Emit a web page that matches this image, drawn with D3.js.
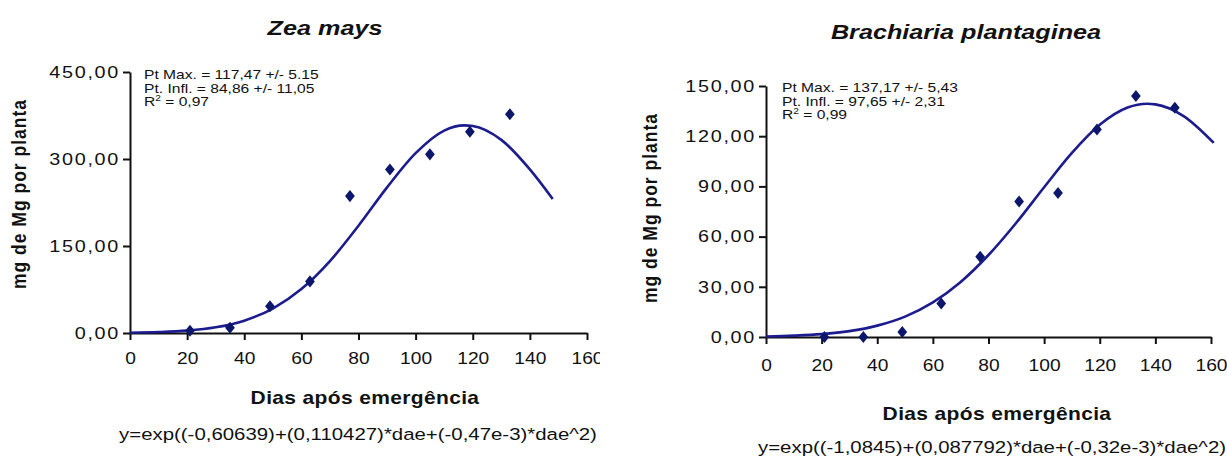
<!DOCTYPE html>
<html>
<head>
<meta charset="utf-8">
<script src="https://cdn.jsdelivr.net/npm/d3@7"></script>
<style>
  body { margin: 0; background: #fff; }
  svg { display: block; font-family: "Liberation Sans", Arial, sans-serif; }
</style>
</head>
<body>
<div id="chart"></div>
<script>
// observed points (days after emergence, mg of Mg per plant)
const ZEA_DAYS = [21, 35, 49, 63, 77, 91, 105, 119, 133];
const ZEA_MG = [4, 9, 46, 89, 236, 282, 308, 347, 377];
const BRA_DAYS = [21, 35, 49, 63, 77, 91, 105, 119, 133, 147];
const BRA_MG = [0, 0, 3, 20, 48, 81, 86, 124, 144, 137];

// fitted curves
const ZEA_FIT_DAYS = [0, 10, 20, 30, 40, 50, 60, 70, 80, 90, 100, 110, 117, 120, 130, 140, 148];
const ZEA_FIT_MG = [0.5, 1.6, 4.1, 9.8, 21.3, 42.1, 75.7, 124, 185, 251, 310, 349, 358, 357, 333, 282, 231];
const BRA_FIT_DAYS = [0, 10, 20, 30, 40, 50, 60, 70, 80, 90, 100, 110, 120, 130, 137, 140, 150, 161];
const BRA_FIT_MG = [0.3, 0.8, 1.7, 3.5, 6.8, 12.2, 20.7, 32.9, 49, 68.3, 89.5, 110, 126.8, 137.1, 139.4, 139, 132.2, 116];

// ticks
const X_TICKS = [0, 20, 40, 60, 80, 100, 120, 140, 160];
const ZEA_Y_TICKS = [0, 150, 300, 450];
const BRA_Y_TICKS = [0, 30, 60, 90, 120, 150];

// texts
const TITLES = ['Zea mays', 'Brachiaria plantaginea'];
const X_TITLE = 'Dias após emergência';
const Y_TITLE = 'mg de Mg por planta';
const ZEA_NOTES = ['Pt Max. = 117,47 +/- 5.15', 'Pt. Infl. = 84,86 +/- 11,05', '0,97'];
const BRA_NOTES = ['Pt Max. = 137,17 +/- 5,43', 'Pt. Infl. =  97,65 +/- 2,31', '0,99'];
const EQUATIONS = [
  'y=exp((-0,60639)+(0,110427)*dae+(-0,47e-3)*dae^2)',
  'y=exp((-1,0845)+(0,087792)*dae+(-0,32e-3)*dae^2)'
];

const W = 1227, H = 461;
const SX = 1.2; // the source picture is stretched sideways
const LINE_COLOR = '#1c1c8e';
const POINT_COLOR = '#0c176c';

const fmt = d3.formatLocale({ decimal: ',', thousands: '.', grouping: [3], currency: ['', ''] }).format('.2f');

const svg = d3.select('#chart').append('svg')
  .attr('width', W)
  .attr('height', H);

svg.append('defs').append('clipPath')
  .attr('id', 'clipLeft')
  .append('rect')
  .attr('x', 0).attr('y', 0).attr('width', 600).attr('height', H);

function addText(g, x, y, str, opts = {}) {
  const rot = opts.rotate ? ` rotate(${opts.rotate})` : '';
  return g.append('text')
    .attr('transform', `translate(${x},${y}) scale(${SX},1)${rot}`)
    .attr('text-anchor', opts.anchor || 'middle')
    .attr('font-size', opts.size || 16)
    .attr('font-weight', opts.weight || 'normal')
    .attr('font-style', opts.style || 'normal')
    .attr('letter-spacing', opts.spacing || 0)
    .attr('fill', '#111')
    .text(str);
}

function stretchTicks(sel) {
  sel.selectAll('text').each(function() {
    const t = d3.select(this);
    const x = +t.attr('x') || 0;
    t.attr('x', x / SX).attr('transform', `scale(${SX},1)`);
  });
}

function drawPanel(p) {
  const g = svg.append('g');
  if (p.clip) g.attr('clip-path', `url(#${p.clip})`);

  const x = d3.scaleLinear().domain([0, 160]).range(p.xRange);
  const y = d3.scaleLinear().domain(p.yDomain).range(p.yRange);

  // axes
  const yAxis = g.append('g')
    .attr('transform', `translate(${p.xRange[0]},0)`)
    .call(d3.axisLeft(y).tickValues(p.yTicks).tickFormat(fmt).tickSize(7).tickPadding(3).tickSizeOuter(0));
  const xAxis = g.append('g')
    .attr('transform', `translate(0,${p.yRange[0]})`)
    .call(d3.axisBottom(x).tickValues(X_TICKS).tickSize(7).tickPadding(p.xPad).tickSizeOuter(0));

  [yAxis, xAxis].forEach(a => {
    a.attr('font-size', 16).attr('font-family', null);
    a.select('.domain').attr('stroke', '#111').attr('stroke-width', 2);
    a.selectAll('.tick line').attr('stroke', '#111').attr('stroke-width', 2);
    a.selectAll('.tick text').attr('fill', '#111');
    stretchTicks(a);
  });
  yAxis.attr('font-size', 16.5).selectAll('.tick text').attr('letter-spacing', 1.4);

  // fitted curve
  const line = d3.line()
    .x(d => x(d[0]))
    .y(d => y(d[1]))
    .curve(d3.curveMonotoneX);
  g.append('path')
    .datum(p.fitDays.map((d, i) => [d, p.fitMg[i]]))
    .attr('d', line)
    .attr('fill', 'none')
    .attr('stroke', LINE_COLOR)
    .attr('stroke-width', 2.6);

  // observed points
  const diamond = d3.symbol().type(d3.symbolDiamond).size(42);
  g.selectAll('.pt')
    .data(p.days.map((d, i) => [d, p.mg[i]]))
    .enter()
    .append('path')
    .attr('class', 'pt')
    .attr('d', diamond)
    .attr('transform', d => `translate(${x(d[0])},${y(d[1])}) scale(1.4,1)`)
    .attr('fill', POINT_COLOR);

  // title and axis titles
  addText(g, p.titlePos[0], p.titlePos[1], p.title, { size: 21, weight: 'bold', style: 'italic' });
  addText(g, p.xTitlePos[0], p.xTitlePos[1], X_TITLE, { size: 17.5, weight: 'bold', spacing: 0.3 });
  addText(g, p.yTitlePos[0], p.yTitlePos[1], Y_TITLE, { size: 17.5, weight: 'bold', spacing: 1, rotate: -90 });
  addText(g, p.eqPos[0], p.eqPos[1], p.equation, { size: 17 });

  // fit statistics
  const nx = p.notePos[0], ny = p.notePos[1];
  addText(g, nx, ny, p.notes[0], { size: 13, anchor: 'start' });
  addText(g, nx, ny + 13.5, p.notes[1], { size: 13, anchor: 'start' });
  const r2 = addText(g, nx, ny + 27, 'R', { size: 13, anchor: 'start' });
  r2.append('tspan').attr('font-size', 8.5).attr('dy', -5).text('2');
  r2.append('tspan').attr('dy', 5).text(' = ' + p.notes[2]);
}

drawPanel({
  clip: 'clipLeft',
  xRange: [130, 587],
  yDomain: [0, 450],
  yRange: [333, 72],
  yTicks: ZEA_Y_TICKS,
  xPad: 13,
  days: ZEA_DAYS, mg: ZEA_MG,
  fitDays: ZEA_FIT_DAYS, fitMg: ZEA_FIT_MG,
  title: TITLES[0], titlePos: [325, 35],
  xTitlePos: [365, 404],
  yTitlePos: [26, 194],
  eqPos: [358, 440],
  equation: EQUATIONS[0],
  notes: ZEA_NOTES, notePos: [144, 79]
});

drawPanel({
  xRange: [766, 1211],
  yDomain: [0, 150],
  yRange: [337, 86],
  yTicks: BRA_Y_TICKS,
  xPad: 16,
  days: BRA_DAYS, mg: BRA_MG,
  fitDays: BRA_FIT_DAYS, fitMg: BRA_FIT_MG,
  title: TITLES[1], titlePos: [966, 39],
  xTitlePos: [997, 420],
  yTitlePos: [657, 208],
  eqPos: [992, 453],
  equation: EQUATIONS[1],
  notes: BRA_NOTES, notePos: [782, 92]
});
</script>
</body>
</html>
